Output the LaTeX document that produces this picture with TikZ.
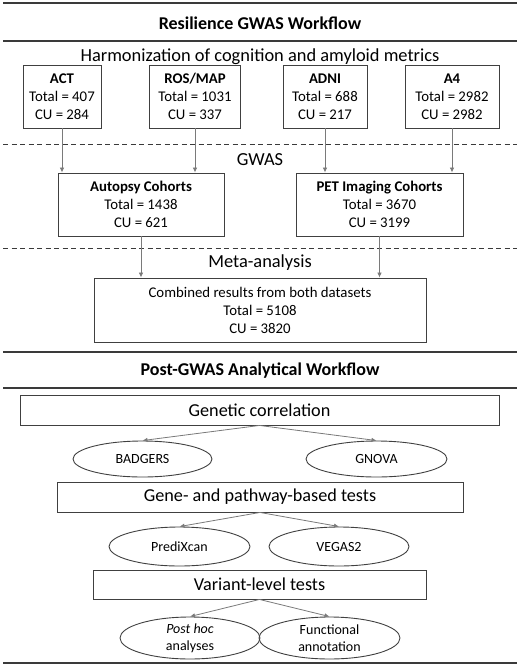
\documentclass[tikz,border=0pt]{standalone}
\usepackage{fontspec}
\setmainfont{Carlito}
\usetikzlibrary{shapes.geometric,arrows.meta}
\definecolor{boxc}{HTML}{404040}
\definecolor{arrc}{HTML}{7A7A7A}
\definecolor{rulec}{HTML}{3A3A3A}
\begin{document}
\begin{tikzpicture}[x=1pt,y=-1pt,
  cohort/.style={draw=boxc,line width=0.9pt,inner sep=0pt,align=center,
    font=\fontsize{14.8}{18}\selectfont},
  stagebox/.style={draw=boxc,line width=0.9pt,inner sep=0pt,minimum height=30pt,
    font=\fontsize{18.2}{20}\selectfont},
  ell/.style={draw=boxc,line width=0.9pt,ellipse,inner sep=0pt},
  elltext/.style={font=\fontsize{14}{17}\selectfont,align=center},
  headtext/.style={font=\bfseries\fontsize{18}{20}\selectfont},
  sectext/.style={font=\fontsize{18.4}{20}\selectfont},
  hrule/.style={draw=rulec,line width=1.2pt},
  dline/.style={draw=rulec,line width=0.9pt,dash pattern=on 5pt off 3.5pt},
  arr/.style={draw=arrc,line width=0.8pt,-{Latex[length=5pt,width=4.5pt]}}
]
\useasboundingbox (0,0) rectangle (520,665);

% rules
\coordinate (r1a) at (3,3);   \coordinate (r1b) at (517,3);
\coordinate (r2a) at (3,41);  \coordinate (r2b) at (517,41);
\coordinate (d1a) at (3,144); \coordinate (d1b) at (517,144);
\coordinate (d2a) at (3,248); \coordinate (d2b) at (517,248);
\coordinate (r3a) at (3,352); \coordinate (r3b) at (517,352);
\coordinate (r4a) at (3,388); \coordinate (r4b) at (517,388);
\coordinate (r5a) at (3,663); \coordinate (r5b) at (517,663);
\path[hrule] (r1a) -- (r1b);
\path[hrule] (r2a) -- (r2b);
\path[dline] (d1a) -- (d1b);
\path[dline] (d2a) -- (d2b);
\path[hrule] (r3a) -- (r3b);
\path[hrule] (r4a) -- (r4b);
\path[hrule] (r5a) -- (r5b);

% headings
\node[headtext] (t1) at (260,23) {Resilience GWAS Workflow};
\node[sectext] (h1) at (260,57) {Harmonization of cognition and amyloid metrics};
\node[sectext] (h2) at (260,160) {GWAS};
\node[sectext] (h3) at (260,263) {Meta-analysis};
\node[headtext] (t2) at (260,371) {Post-GWAS Analytical Workflow};

% cohorts
\node[cohort,minimum width=78pt,minimum height=63pt] (act) at (62,96.5)
  {\textbf{ACT}\\Total = 407\\CU = 284};
\node[cohort,minimum width=91pt,minimum height=63pt] (ros) at (195,96.5)
  {\textbf{ROS/MAP}\\Total = 1031\\CU = 337};
\node[cohort,minimum width=84pt,minimum height=63pt] (adni) at (325,96.5)
  {\textbf{ADNI}\\Total = 688\\CU = 217};
\node[cohort,minimum width=94pt,minimum height=63pt] (afour) at (452,96.5)
  {\textbf{A4}\\Total = 2982\\CU = 2982};

\node[cohort,minimum width=166pt,minimum height=63pt] (aut) at (141,204.5)
  {\textbf{Autopsy Cohorts}\\Total = 1438\\CU = 621};
\node[cohort,minimum width=167pt,minimum height=63pt] (pet) at (379.5,204.5)
  {\textbf{PET Imaging Cohorts}\\Total = 3670\\CU = 3199};

\node[cohort,minimum width=332pt,minimum height=64pt] (comb) at (260,310)
  {Combined results from both datasets\\Total = 5108\\CU = 3820};

\path[arr] (act.south) -- (act.south |- aut.north);
\path[arr] (ros.south) -- (ros.south |- aut.north);
\path[arr] (adni.south) -- (adni.south |- pet.north);
\path[arr] (afour.south) -- (afour.south |- pet.north);
\path[arr] (aut.south) -- (aut.south |- comb.north);
\path[arr] (pet.south) -- (pet.south |- comb.north);

% post-GWAS
\node[stagebox,minimum width=479pt] (gc) at (259.5,410) {Genetic correlation};
\node[ell,minimum width=139pt,minimum height=36pt,
  label={[elltext]center:BADGERS}] (bad) at (142.5,459) {};
\node[ell,minimum width=141pt,minimum height=36pt,
  label={[elltext]center:GNOVA}] (gno) at (376.5,459) {};
\path[arr] (gc.south) -- (bad.north);
\path[arr] (gc.south) -- (gno.north);

\node[stagebox,minimum width=406pt] (gp) at (260,497) {Gene- and pathway-based tests};
\node[ell,minimum width=141pt,minimum height=39pt,
  label={[elltext]center:PrediXcan}] (pre) at (179.5,546.5) {};
\node[ell,minimum width=140pt,minimum height=39pt,
  label={[elltext]center:VEGAS2}] (veg) at (339,546.5) {};
\path[arr] (gp.south) -- (pre.north);
\path[arr] (gp.south) -- (veg.north);

\node[stagebox,minimum width=333pt,minimum height=29pt] (vl) at (259.5,584.5) {Variant-level tests};
\node[ell,minimum width=140pt,minimum height=42pt,
  label={[elltext]center:\textit{Post hoc}\\analyses}] (ph) at (190,638) {};
\node[ell,minimum width=141pt,minimum height=42pt,
  label={[elltext]center:Functional\\annotation}] (fa) at (329.5,638) {};
\path[arr] (vl.south) -- (ph.north);
\path[arr] (vl.south) -- (fa.north);
\end{tikzpicture}
\end{document}
